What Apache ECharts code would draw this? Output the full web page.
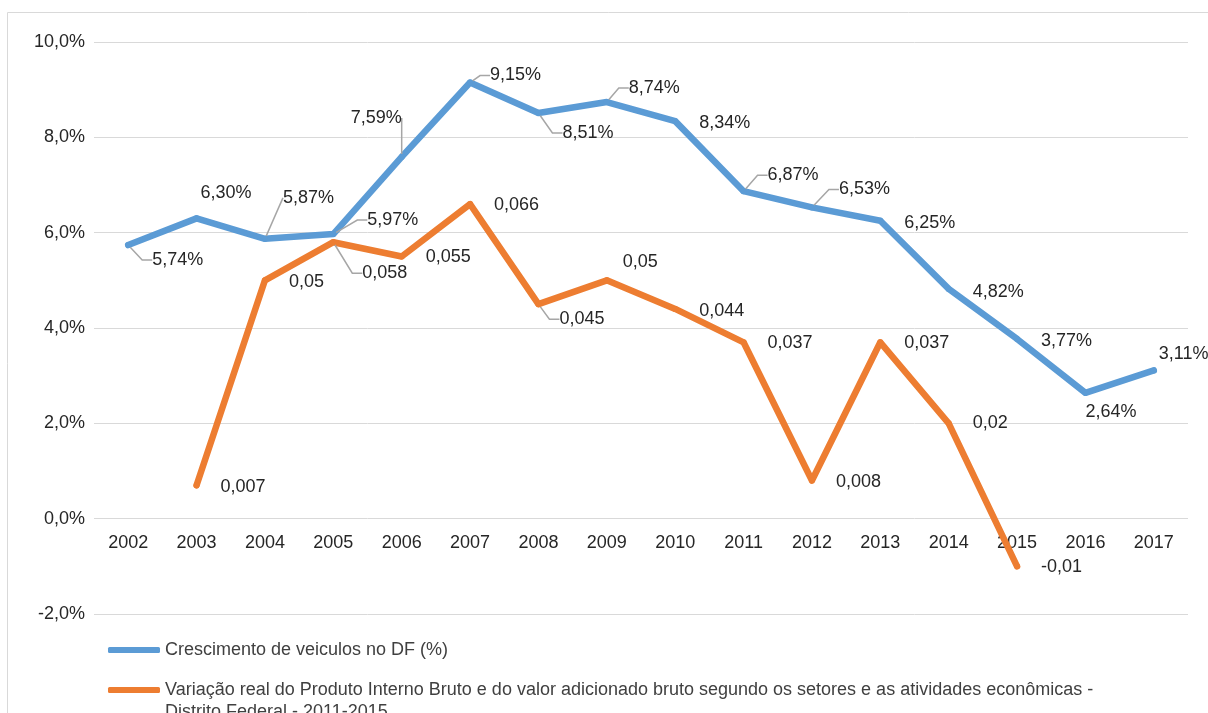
<!DOCTYPE html>
<html lang="pt">
    <head>
        <meta charset="utf-8">
        <title>Veiculos x PIB DF</title>
        <script src="https://cdn.jsdelivr.net/npm/echarts@6/dist/echarts.min.js"></script>
        <style>
            body { margin: 0; background: #fff; }
        </style>
    </head>
    <body>
        <div id="main" style="width: 1208px;height: 713px;"></div>

        <script type="text/javascript">

            const years = ['2002', '2003', '2004', '2005', '2006', '2007', '2008', '2009',
                           '2010', '2011', '2012', '2013', '2014', '2015', '2016', '2017'];

            // crescimento de veiculos (%)
            const veiculos = [5.74, 6.30, 5.87, 5.97, 7.59, 9.15, 8.51, 8.74,
                              8.34, 6.87, 6.53, 6.25, 4.82, 3.77, 2.64, 3.11];

            // variacao real do PIB (fracao), sem valor em 2002
            const pib = [null, 0.007, 0.05, 0.058, 0.055, 0.066, 0.045, 0.05,
                         0.044, 0.037, 0.008, 0.037, 0.02, -0.01, null, null];

            const yTicks = [-2, 0, 2, 4, 6, 8, 10];

            const nomeVeiculos = 'Crescimento de veiculos no DF (%)';
            const nomePib = 'Variação real do Produto Interno Bruto e do valor adicionado bruto segundo os setores e as atividades econômicas - Distrito Federal - 2011-2015';

            // deslocamento manual dos rotulos (como no Excel)
            const shiftVeiculos = [[0, 15], [-20, -25], [-6, -41], [10, -14], [-75, -39], [-4, -7], [0, 20], [-2, -14],
                                   [0, 2], [0, -16], [3, -18], [0, 2], [0, 3], [0, 2], [-24, 19], [-19, -16]];
            const shiftPib = [[0, 0], [0, 2], [0, 2], [5, 31], [0, 1], [0, 1], [-3, 15], [-8, -18],
                              [0, 2], [0, 1], [0, 1], [0, 1], [0, 0], [0, 1], [0, 0], [0, 0]];
            // linhas de chamada: indice -> comprimento do trecho horizontal
            const leaderVeiculos = { 0: 10, 2: 0, 3: 10, 4: 0, 5: 10, 6: 10, 7: 10, 9: 10, 10: 10 };
            const leaderPib = { 3: 10, 6: 10 };

            const font = '"Liberation Sans", Arial, sans-serif';
            const txt = '#262626';

            function fmtNum(v) {
                return String(v).replace('.', ',');
            }

            function buildData(values, scale, leaders) {
                return values.map((v, i) => {
                    if (v === null) return '-';
                    let item = { value: +(v * scale).toFixed(4) };
                    if (leaders[i] !== undefined) {
                        item.labelLine = { show: true, length2: leaders[i], lineStyle: { color: '#a6a6a6', width: 1.5 } };
                    }
                    return item;
                });
            }

            let myChart = echarts.init(document.getElementById('main'));

            const legendText = { fontSize: 18, fontFamily: font, color: '#404040', lineHeight: 20 };

            let options = {
                animation: false,
                grid: { left: 94, right: 20, top: 42, bottom: 99 },
                graphic: [
                    {
                        type: 'rect',
                        shape: { x: 7.5, y: 12.5, width: 1400, height: 900 },
                        style: { fill: null, stroke: '#d9d9d9', lineWidth: 1 },
                        silent: true
                    },
                    {
                        type: 'text',
                        left: 165,
                        top: 703,
                        style: { text: 'Distrito Federal - 2011-2015', font: '18px ' + font, fill: '#404040' },
                        silent: true
                    }
                ],
                legend: [
                    {
                        data: [nomeVeiculos],
                        left: 108, top: 640, padding: 0,
                        icon: 'roundRect', itemWidth: 52, itemHeight: 6,
                        selectedMode: false,
                        textStyle: legendText
                    },
                    {
                        data: [nomePib],
                        left: 108, top: 680, padding: 0,
                        icon: 'roundRect', itemWidth: 52, itemHeight: 6,
                        selectedMode: false,
                        formatter: () => 'Variação real do Produto Interno Bruto e do valor adicionado bruto segundo os setores e as atividades econômicas -',
                        textStyle: legendText
                    }
                ],
                xAxis: {
                    type: 'category',
                    data: years,
                    offset: -95, // eixo de categorias cruza em 0
                    axisLine: { show: false },
                    axisTick: { show: false },
                    axisLabel: { margin: 15, fontSize: 18, fontFamily: font, color: txt }
                },
                yAxis: {
                    type: 'value',
                    min: yTicks[0],
                    max: yTicks[yTicks.length - 1],
                    interval: 2,
                    axisLine: { show: false },
                    axisTick: { show: false },
                    splitLine: { lineStyle: { color: '#d9d9d9', width: 1 } },
                    axisLabel: {
                        margin: 9, fontSize: 18, fontFamily: font, color: txt,
                        formatter: v => v.toFixed(1).replace('.', ',') + '%'
                    }
                },
                series: [
                    {
                        name: nomeVeiculos,
                        type: 'line',
                        data: buildData(veiculos, 1, leaderVeiculos),
                        symbol: 'circle',
                        symbolSize: 6,
                        itemStyle: { color: '#5b9bd5' },
                        lineStyle: { color: '#5b9bd5', width: 6.5, cap: 'round', join: 'round' },
                        label: {
                            show: true, position: 'right', distance: 21,
                            fontSize: 18, fontFamily: font, color: txt,
                            formatter: p => veiculos[p.dataIndex].toFixed(2).replace('.', ',') + '%'
                        },
                        labelLayout: p => ({ dx: shiftVeiculos[p.dataIndex][0], dy: shiftVeiculos[p.dataIndex][1] }),
                        emphasis: { disabled: true },
                        z: 3
                    },
                    {
                        name: nomePib,
                        type: 'line',
                        data: buildData(pib, 100, leaderPib),
                        symbol: 'circle',
                        symbolSize: 6,
                        itemStyle: { color: '#ed7d31' },
                        lineStyle: { color: '#ed7d31', width: 6.5, cap: 'round', join: 'round' },
                        label: {
                            show: true, position: 'right', distance: 21,
                            fontSize: 18, fontFamily: font, color: txt,
                            formatter: p => fmtNum(pib[p.dataIndex])
                        },
                        labelLayout: p => ({ dx: shiftPib[p.dataIndex][0], dy: shiftPib[p.dataIndex][1] }),
                        emphasis: { disabled: true },
                        z: 2
                    }
                ]
            };

            myChart.setOption(options);
        </script>
    </body>
</html>
